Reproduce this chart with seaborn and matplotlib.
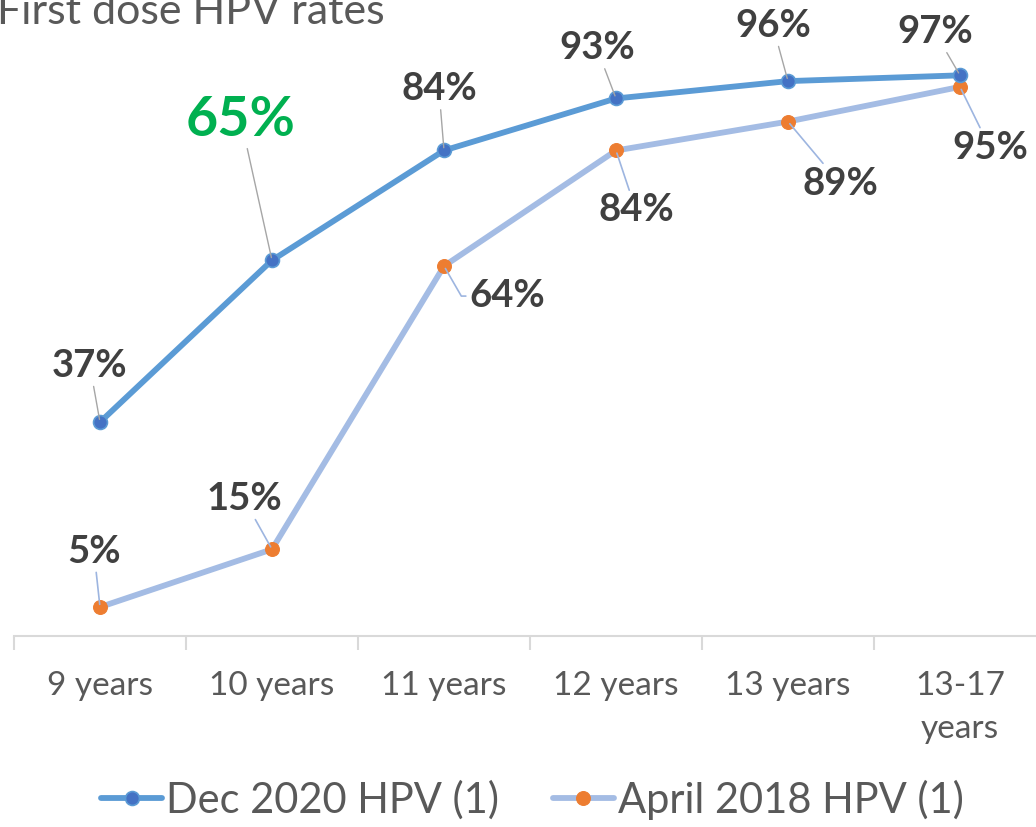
import pandas as pd
import matplotlib
matplotlib.use("Agg")
import matplotlib.pyplot as plt
import seaborn as sns

# === Data ===
ages = ["9 years", "10 years", "11 years", "12 years", "13 years", "13-17\nyears"]
dec_2020 = [37, 65, 84, 93, 96, 97]
apr_2018 = [5, 15, 64, 84, 89, 95]

# label offsets from the point, in pixels (dx, dy up)
dec_offsets = [(-10, 56), (-31, 140), (-5, 61), (-19, 50), (-15, 55), (-25, 43)]
apr_offsets = [(-6, 55), (-28, 50), (63, -30), (20, -60), (52, -62), (30, -61)]

sns.set_style("white")
plt.rcParams['font.family'] = ['Lato', 'DejaVu Sans']

fig = plt.figure(figsize=(10.36, 8.27), dpi=100)
# axes runs a bit past the right edge, like the original export
ax = fig.add_axes([14 / 1036, 191 / 827, 1032 / 1036, 578 / 827])

df_dec = pd.DataFrame({"age": ages, "rate": dec_2020})
df_apr = pd.DataFrame({"age": ages, "rate": apr_2018})

sns.lineplot(x="age", y="rate", data=df_dec, ax=ax, sort=False,
             color="#5B9BD5", linewidth=4.2, marker="o", markersize=10,
             markerfacecolor="#4472C4", markeredgecolor="#5B9BD5",
             markeredgewidth=1.2, label="Dec 2020 HPV (1)", zorder=3)
sns.lineplot(x="age", y="rate", data=df_apr, ax=ax, sort=False,
             color="#A4BCE4", linewidth=4.2, marker="o", markersize=10,
             markerfacecolor="#ED7D31", markeredgecolor="#ED7D31",
             label="April 2018 HPV (1)", zorder=2)

ax.set_xlim(-0.5, 5.5)
ax.set_ylim(0, 100)

# === Data labels with leader lines ===
for i, (v, off) in enumerate(zip(dec_2020, dec_offsets)):
    big = (i == 1)
    ax.annotate(f"{v}%", xy=(i, v), xytext=off, textcoords="offset pixels",
                ha="center", va="center", fontweight="bold",
                fontsize=40 if big else 27.5,
                color="#00B050" if big else "#404040",
                arrowprops=dict(arrowstyle="-", color="#A6A6A6", lw=1.0,
                                shrinkA=0, shrinkB=2))

for i, (v, off) in enumerate(zip(apr_2018, apr_offsets)):
    props = dict(arrowstyle="-", color="#9DB5E0", lw=1.2, shrinkA=0, shrinkB=2)
    if i == 2:
        props["connectionstyle"] = "angle,angleA=180,angleB=-60"
        props["relpos"] = (0, 0.5)
    ax.annotate(f"{v}%", xy=(i, v), xytext=off, textcoords="offset pixels",
                ha="center", va="center", fontweight="bold", fontsize=27.5,
                color="#404040", arrowprops=props)

# === Axes styling ===
for s in ["top", "right", "left"]:
    ax.spines[s].set_visible(False)
ax.spines["bottom"].set_color("#D9D9D9")
ax.spines["bottom"].set_linewidth(1.5)
ax.set_yticks([])
ax.set_xlabel("")
ax.set_ylabel("")
ax.set_xticks(range(len(ages)))
ax.set_xticklabels(ages)
ax.set_xticks([x - 0.5 for x in range(len(ages) + 1)], minor=True)
ax.tick_params(axis="x", which="major", length=0, pad=25, labelsize=24,
               labelcolor="#595959")
ax.tick_params(axis="x", which="minor", length=10, width=1.5, color="#D9D9D9",
               bottom=True)
for t in ax.get_xticklabels():
    t.set_linespacing(1.55)

ax.get_legend().remove()
handles, labels = ax.get_legend_handles_labels()
fig.legend(handles, labels, loc="center", bbox_to_anchor=(0.514, 1 - 800 / 827),
           ncol=2, frameon=False, fontsize=30, handlelength=1.45,
           handletextpad=0.1, columnspacing=1.3, labelcolor="#595959")

fig.text(-0.003, 1 - 24 / 827, "First dose HPV rates", fontsize=31,
         color="#595959", ha="left", va="baseline")

fig.savefig("out.png", dpi=100)
